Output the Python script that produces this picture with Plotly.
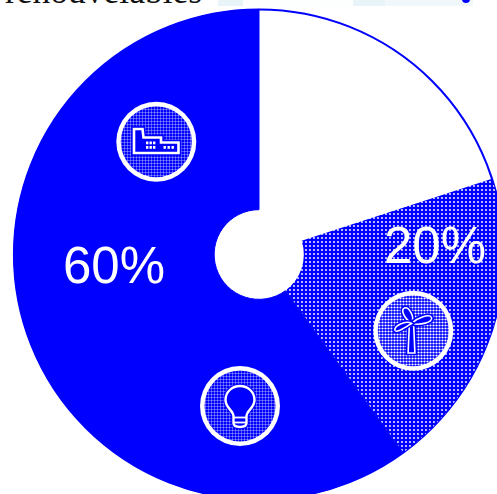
import plotly.graph_objects as go

# Data
categories = ["Renouvelables", "Éolien", "Autres"]
values = [20, 20, 60]
label_60 = "60%"
label_20 = "20%"
heading = "renouvelables"

W, H = 505, 500
BLUE = "#0000ff"
WHITE = "#ffffff"

def X(x): return x / W
def Y(y): return 1 - y / H
def dx(x1, x2): return [X(x1), X(x2)]
def dy(y1, y2): return [Y(y2), Y(y1)]

def path(cmds):
    out = []
    for c in cmds:
        if c == "Z":
            out.append("Z")
        else:
            op, *pts = c
            s = " ".join(f"{X(pts[i]):.5f},{Y(pts[i+1]):.5f}" for i in range(0, len(pts), 2))
            out.append(op + s)
    return " ".join(out)

fig = go.Figure()
# outer outline disc
fig.add_trace(go.Pie(
    values=[1], labels=["contour"], sort=False, textinfo="none", showlegend=False, hoverinfo="skip",
    domain=dict(x=dx(14, 504), y=dy(9.5, 499.5)),
    marker=dict(colors=[WHITE], line=dict(color=BLUE, width=2)),
))
fig.add_trace(go.Pie(
    labels=categories, values=values, sort=False, direction="clockwise", rotation=0,
    hole=0.183, textinfo="none", showlegend=False, hoverinfo="label+percent",
    domain=dict(x=dx(14, 504), y=dy(9.5, 499.5)),
    marker=dict(
        colors=["rgba(255,255,255,0)", BLUE, BLUE],
        line=dict(color=[WHITE, BLUE, BLUE], width=[0, 0, 1]),
        pattern=dict(shape=["", ".", ""], fgcolor=WHITE, bgcolor=BLUE, size=4, solidity=0.18),
    ),
))

for cx, cy, shp, sol, size in [(156.3, 141.7, "+", 0.2, 3), (413.3, 330.7, ".", 0.42, 3), (240, 406, "+", 0.2, 3)]:
    # white ring disc, then patterned disc inside
    fig.add_trace(go.Pie(
        values=[1], labels=["anneau"], sort=False, textinfo="none", showlegend=False, hoverinfo="skip",
        domain=dict(x=dx(cx - 40, cx + 40), y=dy(cy - 40, cy + 40)),
        marker=dict(colors=[WHITE], line=dict(width=0)),
    ))
    fig.add_trace(go.Pie(
        values=[1], labels=["icône"], sort=False, textinfo="none", showlegend=False, hoverinfo="skip",
        domain=dict(x=dx(cx - 35.5, cx + 35.5), y=dy(cy - 35.5, cy + 35.5)),
        marker=dict(colors=[BLUE], line=dict(width=0),
                    pattern=dict(shape=shp, fgcolor=WHITE, bgcolor=BLUE, size=size, solidity=sol)),
    ))

shapes = []
def add_path(cmds, fill=BLUE, line=WHITE, lw=2, halo=0):
    if halo:
        shapes.append(dict(type="path", xref="paper", yref="paper", path=path(cmds),
                           fillcolor=BLUE, line=dict(color=BLUE, width=lw + halo), layer="above"))
    shapes.append(dict(type="path", xref="paper", yref="paper", path=path(cmds),
                       fillcolor=fill, line=dict(color=line, width=lw), layer="above"))
def add_rect(x0, y0, x1, y1, fill=WHITE, layer="above"):
    shapes.append(dict(type="rect", xref="paper", yref="paper", x0=X(x0), x1=X(x1), y0=Y(y0), y1=Y(y1),
                       fillcolor=fill, line=dict(width=0), layer=layer))

# faint banner remains at the top edge
for x0, x1, col in [(218, 243, "#e8f4f8"), (243, 353, "#fdfefe"), (353, 385, "#e8f4f8"),
                    (385, 473, "#f0f8fb")]:
    add_rect(x0, 0, x1, 6, fill=col)
shapes.append(dict(type="circle", xref="paper", yref="paper", x0=X(462), x1=X(470), y0=Y(3), y1=Y(-5),
                   fillcolor=BLUE, line=dict(width=0), layer="above"))

# factory
add_path([("M", 134, 129), ("L", 142.5, 129), ("L", 143.5, 137.5), ("L", 161, 137.5), ("L", 161, 142.5),
          ("L", 178.5, 142.5), ("L", 178.5, 153), ("L", 134, 153), "Z"], lw=2.6, halo=3)
for wx in (146, 149.5, 153):
    for wy in (141.5, 146):
        add_rect(wx, wy, wx + 2.4, wy + 2.8)
for wx in (163.5, 167.5, 171.5):
    add_rect(wx, 146, wx + 2.4, 148.8)

# wind turbine
hx, hy = 411.5, 323.5
add_path([("M", hx - 2.2, hy + 2), ("L", hx - 3.4, 353), ("L", hx + 3.4, 353), ("L", hx + 2.2, hy + 2), "Z"], lw=1.6, halo=3)
add_path([("M", hx, hy), ("C", hx - 8, hy - 6, hx - 11, hy - 14, hx - 7, hy - 15.5),
          ("C", hx - 3, hy - 17, hx + 4, hy - 7, hx, hy), "Z"], lw=1.6, halo=3)
add_path([("M", hx, hy), ("C", hx + 6, hy - 6, hx + 18, hy - 10, hx + 20, hy - 6),
          ("C", hx + 22, hy - 1, hx + 8, hy + 2, hx, hy), "Z"], lw=1.6, halo=3)
add_path([("M", hx, hy), ("C", hx - 5, hy + 3, hx - 15, hy + 10, hx - 16.5, hy + 7),
          ("C", hx - 18, hy + 3, hx - 6, hy - 4, hx, hy), "Z"], lw=1.6, halo=3)

# light bulb
add_path([("M", 233.5, 423), ("L", 233.5, 416), ("C", 233, 410, 225.5, 408, 225.5, 400),
          ("C", 225.5, 392, 232, 386, 240, 386), ("C", 248, 386, 254.5, 392, 254.5, 400),
          ("C", 254.5, 408, 247, 410, 246.5, 416), ("L", 246.5, 423), ("C", 246.5, 426, 244, 427, 240, 427),
          ("C", 236, 427, 233.5, 426, 233.5, 423), "Z"], lw=2.4, halo=2)
add_path([("M", 233.5, 417.5), ("L", 246.5, 417.5)], fill="rgba(0,0,0,0)", lw=1.8)
add_path([("M", 233.5, 422.5), ("L", 246.5, 422.5)], fill="rgba(0,0,0,0)", lw=1.8)

def note(txt, x, y, size, color, family, anchor="center", yanchor="middle"):
    return dict(text=txt, x=X(x), y=Y(y), xref="paper", yref="paper", showarrow=False, xanchor=anchor,
                yanchor=yanchor, font=dict(size=size, color=color, family=family))

annotations = [
    note(label_60, 114, 265, 51, WHITE, "Liberation Sans"),
    note(label_20, 435, 245, 51, WHITE, "Liberation Sans"),
    note(heading, 3, -9, 35.5, "#111111", "Liberation Serif", anchor="left"),
]

fig.update_layout(width=W, height=H, margin=dict(l=0, r=0, t=0, b=0), paper_bgcolor=WHITE,
                  shapes=shapes, annotations=annotations)
fig.write_html("out.html", config=dict(displayModeBar=False),
               post_script="document.body.style.margin='0';document.body.style.overflow='hidden';document.documentElement.style.overflow='hidden';")
